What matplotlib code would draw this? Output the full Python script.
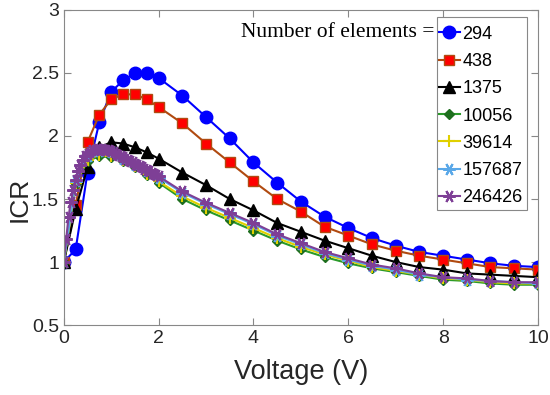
import matplotlib
matplotlib.use("Agg")
import matplotlib.pyplot as plt
from matplotlib.patches import Rectangle
from matplotlib.ticker import FuncFormatter

plt.rcParams['font.family'] = ['Liberation Sans', 'DejaVu Sans']

# voltage grids
v_coarse = [0, 0.25, 0.5, 0.75, 1.0, 1.25, 1.5, 1.75, 2.0, 2.5, 3.0, 3.5, 4.0, 4.5,
            5.0, 5.5, 6.0, 6.5, 7.0, 7.5, 8.0, 8.5, 9.0, 9.5, 10.0]
v_fine = [0, 0.05, 0.1, 0.15, 0.2, 0.25, 0.3, 0.35, 0.4, 0.45, 0.5, 0.55, 0.6, 0.65,
          0.7, 0.75, 0.8, 0.85, 0.9, 0.95, 1.0, 1.05, 1.1, 1.15, 1.2, 1.25, 1.3, 1.35,
          1.4, 1.45, 1.5, 1.55, 1.6, 1.65, 1.7, 1.75, 1.8, 1.85, 1.9, 1.95, 2.0,
          2.5, 3.0, 3.5, 4.0, 4.5, 5.0, 5.5, 6.0, 6.5, 7.0, 7.5, 8.0, 8.5, 9.0, 9.5, 10.0]

icr_294 = [1.0, 1.10, 1.71, 2.11, 2.35, 2.44, 2.50, 2.50, 2.46, 2.32, 2.15, 1.98, 1.79,
           1.63, 1.48, 1.36, 1.27, 1.19, 1.13, 1.08, 1.05, 1.02, 0.99, 0.97, 0.96]
icr_438 = [1.0, 1.45, 1.95, 2.17, 2.29, 2.33, 2.33, 2.29, 2.23, 2.10, 1.94, 1.79, 1.64,
           1.50, 1.40, 1.28, 1.21, 1.14, 1.09, 1.05, 1.02, 0.99, 0.96, 0.95, 0.94]
icr_1375 = [1.0, 1.42, 1.75, 1.91, 1.95, 1.94, 1.91, 1.87, 1.82, 1.71, 1.61, 1.50, 1.41,
            1.31, 1.24, 1.17, 1.11, 1.05, 1.00, 0.96, 0.94, 0.91, 0.90, 0.89, 0.88]
icr_10056 = [1.0, 1.62, 1.80, 1.84, 1.83, 1.80, 1.75, 1.69, 1.63, 1.50, 1.41, 1.33, 1.25,
             1.17, 1.10, 1.04, 0.99, 0.95, 0.92, 0.89, 0.86, 0.85, 0.83, 0.82, 0.82]
icr_39614 = [1.0, 1.63, 1.81, 1.85, 1.84, 1.81, 1.76, 1.70, 1.64, 1.52, 1.43, 1.35, 1.27,
             1.19, 1.12, 1.06, 1.01, 0.96, 0.93, 0.90, 0.87, 0.86, 0.84, 0.83, 0.83]
icr_157687 = [1.0, 1.64, 1.84, 1.88, 1.87, 1.82, 1.77, 1.72, 1.67, 1.55, 1.46, 1.38, 1.30,
              1.21, 1.14, 1.07, 1.02, 0.97, 0.94, 0.90, 0.88, 0.86, 0.85, 0.84, 0.83]
icr_246426 = [1.0, 1.18, 1.36, 1.48, 1.57, 1.65, 1.72, 1.77, 1.81, 1.84, 1.86, 1.875,
              1.885, 1.89, 1.895, 1.895, 1.895, 1.89, 1.89, 1.885, 1.88, 1.87, 1.86,
              1.85, 1.84, 1.83, 1.82, 1.81, 1.80, 1.79, 1.78, 1.77, 1.76, 1.75, 1.74,
              1.73, 1.72, 1.71, 1.70, 1.69, 1.68,
              1.56, 1.47, 1.39, 1.31, 1.22, 1.15, 1.08, 1.03, 0.98, 0.95, 0.91, 0.88,
              0.87, 0.85, 0.84, 0.84]

fig = plt.figure(figsize=(5.5, 3.95), dpi=100)
ax = fig.add_axes([0.116, 0.177, 0.862, 0.798])

ast = (6, 2, 90)
ax.plot(v_coarse, icr_294, '-o', color='blue', lw=1.5, ms=9, label='294')
ax.plot(v_coarse, icr_438, '-s', color='#B04A10', mfc='red', mec='#B04A10', lw=1.5, ms=7, label='438')
ax.plot(v_coarse, icr_1375, '-^', color='black', lw=1.5, ms=9, label='1375')
ax.plot(v_coarse, icr_10056, '-D', color='#2A9A2A', mfc='#1E6E1E', mec='#1E6E1E', lw=1.5, ms=5, label='10056')
ax.plot(v_coarse, icr_39614, '-+', color='#E0D000', lw=1.5, ms=9, mew=1.5, label='39614')
ax.plot(v_coarse, icr_157687, '-', marker=ast, color='#5AA8E8', lw=1.5, ms=9, mew=1.5, label='157687')
ax.plot(v_fine, icr_246426, '-', marker=ast, color='#7E3F96', lw=1.5, ms=9, mew=1.5, label='246426')

ax.set_xlim(0, 10)
ax.set_ylim(0.5, 3)
ax.set_xticks([0, 2, 4, 6, 8, 10])
ax.set_yticks([0.5, 1, 1.5, 2, 2.5, 3])
ax.yaxis.set_major_formatter(FuncFormatter(lambda v, p: '%g' % v))
ax.tick_params(direction='in', top=True, right=True, length=5, color='#888888',
               labelsize=14, labelcolor='#262626')
for s in ax.spines.values():
    s.set_color('#888888')
    s.set_linewidth(0.8)

ax.set_xlabel('Voltage (V)', fontsize=19.5, color='#262626', labelpad=9)
ax.set_ylabel('ICR', fontsize=19, color='#262626')
ax.yaxis.set_label_coords(-0.068, 0.40)

# legend box drawn separately (MATLAB style: tight sides, roomier top/bottom)
ax.add_patch(Rectangle((0.787, 0.365), 0.190, 0.613, transform=ax.transAxes,
                       facecolor='white', edgecolor='#888888', lw=0.8, zorder=4))
leg = ax.legend(loc='upper left', bbox_to_anchor=(0.791, 0.950), fontsize=13,
                handlelength=1.15, handletextpad=0.15, labelspacing=0.57,
                borderpad=0, borderaxespad=0, frameon=False)
leg.set_zorder(5)

ax.text(0.782, 0.927, 'Number of elements =', transform=ax.transAxes, ha='right', va='center',
        fontsize=15.5, family='Liberation Serif')

fig.savefig('out.png', dpi=100)
